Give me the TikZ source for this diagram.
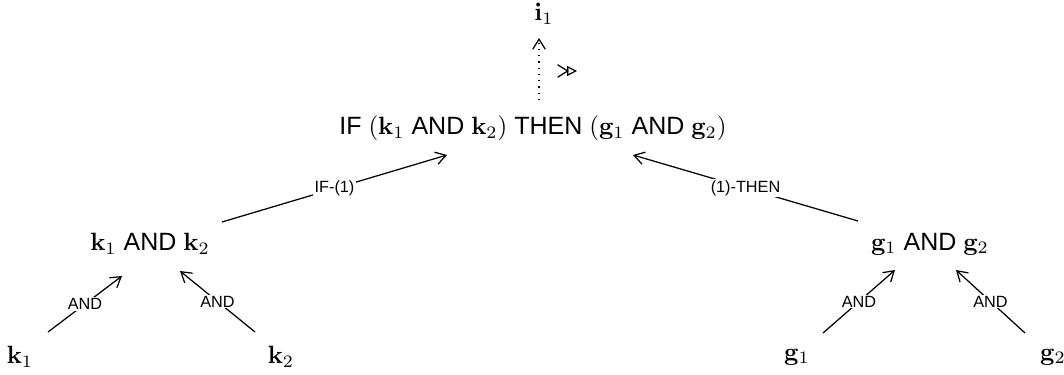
\documentclass[tikz,border=0pt]{standalone}
\usepackage[no-math]{fontspec}
\setmainfont{Liberation Sans}
\usetikzlibrary{arrows.meta,calc}
\begin{document}
\begin{tikzpicture}[x=0.4pt,y=-0.4pt,
  tnode/.style={inner sep=1pt,font=\fontsize{10}{12}\selectfont},
  elabel/.style={fill=white,inner sep=0.5pt,font=\fontsize{6.5}{8}\selectfont},
  arr/.style={-{Straight Barb[length=4pt,width=5pt]},line width=0.5pt}]
\useasboundingbox (0,0) rectangle (1064,374);
\node[tnode] (i1) at (544,14) {$\mathbf{i}_1$};
\node[tnode] (top) at (533,128) {IF $(\mathbf{k}_1$ AND $\mathbf{k}_2)$ THEN $(\mathbf{g}_1$ AND $\mathbf{g}_2)$};
\node[tnode] (kk) at (150,244) {$\mathbf{k}_1$ AND $\mathbf{k}_2$};
\node[tnode] (gg) at (930,244) {$\mathbf{g}_1$ AND $\mathbf{g}_2$};
\node[tnode] (k1) at (20,357) {$\mathbf{k}_1$};
\node[tnode] (k2) at (281,357) {$\mathbf{k}_2$};
\node[tnode] (g1) at (797,357) {$\mathbf{g}_1$};
\node[tnode] (g2) at (1053,357) {$\mathbf{g}_2$};
\draw[arr] ($(k1)+(28,-25)$) -- node[elabel]{AND} ($(kk)+(-28,32)$);
\draw[arr] ($(k2)+(-26,-25)$) -- node[elabel]{AND} ($(kk)+(30,27)$);
\draw[arr] ($(g1)+(26,-24)$) -- node[elabel]{AND} ($(gg)+(-35,26)$);
\draw[arr] ($(g2)+(-28,-24)$) -- node[elabel]{AND} ($(gg)+(26,26)$);
\draw[arr] ($(kk)+(72,-22)$) -- node[elabel]{IF-(1)} ($(top)+(-86,27)$);
\draw[arr] ($(gg)+(-72,-23)$) -- node[elabel]{(1)-THEN} ($(top)+(100,27)$);
\draw[arr,dotted] ($(top)+(6,-28)$) -- ($(i1)+(-5,24)$);
\coordinate (sa) at (557,71);
\coordinate (sb) at (577,71);
\draw[{Straight Barb[reversed,length=4pt,width=5pt]}-{Triangle[open,length=4pt,width=4pt]},line width=0.5pt] (sa) -- (sb);
\end{tikzpicture}
\end{document}
